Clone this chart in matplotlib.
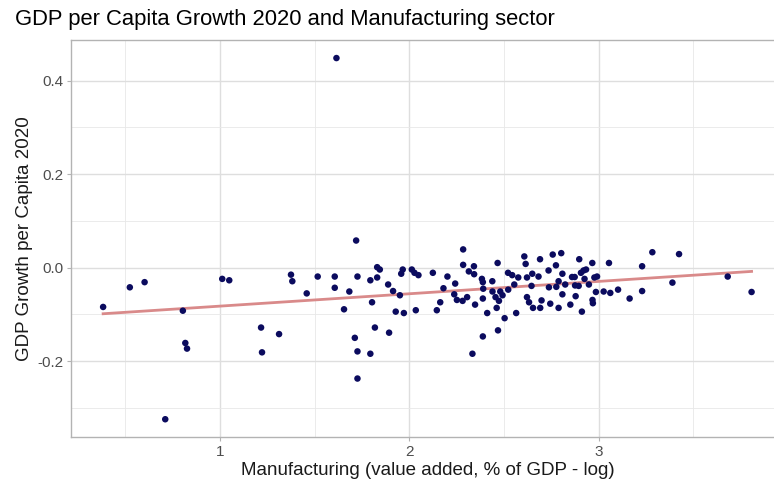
import numpy as np
import matplotlib
matplotlib.use("Agg")
import matplotlib.pyplot as plt
from matplotlib.ticker import FixedLocator

# Manufacturing value added (% of GDP, log) and GDP per capita growth 2020
manufacturing_log = [
    0.383, 0.524, 0.602, 0.711, 0.804, 0.817, 0.826, 1.012, 1.049, 1.217,
    1.222, 1.312, 1.375, 1.382, 1.458, 1.516, 1.606, 1.606, 1.655, 1.683,
    1.719, 1.726, 1.712, 1.726, 1.726, 1.794, 1.818, 1.803, 1.794, 1.830,
    1.830, 1.844, 1.888, 1.893, 1.914, 1.928, 1.950, 1.957, 1.965, 1.971,
    2.013, 2.027, 2.034, 2.048, 2.124, 2.145, 2.163, 2.180, 2.201, 2.242,
    2.237, 2.251, 2.281, 2.284, 2.284, 2.305, 2.314, 2.341, 2.342, 2.333,
    2.347, 2.383, 2.388, 2.388, 2.388, 2.390, 2.411, 2.438, 2.439, 2.455,
    2.461, 2.466, 2.468, 2.473, 2.480, 2.492, 2.503, 2.521, 2.522, 2.543,
    2.554, 2.564, 2.575, 2.607, 2.614, 2.621, 2.621, 2.632, 2.645, 2.649,
    2.653, 2.690, 2.682, 2.691, 2.698, 2.735, 2.737, 2.744, 2.757, 2.802,
    2.774, 2.788, 2.788, 2.776, 2.808, 2.808, 2.823, 2.850, 2.859, 2.873,
    2.878, 2.875, 2.897, 2.894, 2.906, 2.920, 2.933, 2.925, 2.911, 2.948,
    2.966, 2.967, 2.969, 2.977, 2.991, 2.985, 3.026, 3.054, 3.061, 3.102,
    3.163, 3.229, 3.229, 3.283, 3.389, 3.424, 3.681, 3.807, 1.615,
]
gdp_growth = [
    -0.084, -0.042, -0.031, -0.324, -0.092, -0.161, -0.173, -0.024, -0.027, -0.128,
    -0.181, -0.142, -0.015, -0.029, -0.055, -0.019, -0.019, -0.043, -0.089, -0.051,
    0.058, -0.019, -0.150, -0.179, -0.237, -0.184, -0.128, -0.074, -0.027, -0.021,
    0.001, -0.004, -0.036, -0.139, -0.050, -0.094, -0.059, -0.013, -0.004, -0.097,
    -0.004, -0.011, -0.091, -0.016, -0.011, -0.091, -0.074, -0.044, -0.019, -0.034,
    -0.057, -0.069, -0.071, 0.039, 0.006, -0.063, -0.008, 0.003, -0.014, -0.184,
    -0.079, -0.024, -0.031, -0.066, -0.147, -0.045, -0.097, -0.029, -0.051, -0.063,
    -0.086, 0.010, -0.134, -0.071, -0.051, -0.059, -0.108, -0.011, -0.047, -0.016,
    -0.036, -0.097, -0.021, 0.024, 0.008, -0.021, -0.063, -0.074, -0.039, -0.013,
    -0.086, 0.018, -0.019, -0.086, -0.070, -0.006, -0.042, -0.077, 0.028, 0.031,
    0.005, -0.029, -0.086, -0.041, -0.013, -0.057, -0.036, -0.079, -0.020, -0.020,
    -0.061, -0.038, 0.018, -0.039, -0.011, -0.006, -0.004, -0.024, -0.094, -0.036,
    0.010, -0.069, -0.076, -0.021, -0.019, -0.052, -0.051, 0.010, -0.054, -0.047,
    -0.066, 0.003, -0.050, 0.033, -0.032, 0.029, -0.019, -0.052, 0.448,
]

x_ticks = [1, 2, 3]
y_ticks = [-0.2, 0.0, 0.2, 0.4]
y_tick_labels = ["-0.2", "0.0", "0.2", "0.4"]

title = "GDP per Capita Growth 2020 and Manufacturing sector"
x_label = "Manufacturing (value added, % of GDP - log)"
y_label = "GDP Growth per Capita 2020"

x = np.array(manufacturing_log)
y = np.array(gdp_growth)

plt.rcParams["font.family"] = ["Liberation Sans", "DejaVu Sans"]

W, H = 774, 491
fig = plt.figure(figsize=(W / 100, H / 100), dpi=100)
fig.patch.set_facecolor("white")

# panel: extends slightly past the right edge of the canvas
left_px, right_px, top_px, bottom_px = 70.7, 784.0, 40.0, 437.3
ax = fig.add_axes([left_px / W, 1 - bottom_px / H,
                   (right_px - left_px) / W, (bottom_px - top_px) / H])

# ggplot-style 5% expansion of the data range
xr = x.max() - x.min()
yr = y.max() - y.min()
ax.set_xlim(x.min() - 0.05 * xr, x.max() + 0.05 * xr)
ax.set_ylim(y.min() - 0.05 * yr, y.max() + 0.05 * yr)

ax.xaxis.set_major_locator(FixedLocator(x_ticks))
ax.xaxis.set_minor_locator(FixedLocator([0.5, 1.5, 2.5, 3.5]))
ax.yaxis.set_major_locator(FixedLocator(y_ticks))
ax.yaxis.set_minor_locator(FixedLocator([-0.3, -0.1, 0.1, 0.3]))
ax.set_xticklabels([str(t) for t in x_ticks])
ax.set_yticklabels(y_tick_labels)

ax.grid(True, which="major", color="#DEDEDE", linewidth=1.0)
ax.grid(True, which="minor", color="#E8E8E8", linewidth=0.6)
ax.set_axisbelow(True)
for s in ax.spines.values():
    s.set_color("#B3B3B3")
    s.set_linewidth(1.0)

ax.tick_params(which="major", length=3, width=0.8, color="#B3B3B3",
               labelsize=11, labelcolor="#4D4D4D", pad=2.5)
ax.tick_params(which="minor", length=0)

# points
ax.scatter(x, y, s=22, color="#0B0B5E", edgecolors="none", zorder=3)

# least-squares trend line over the data range
slope, intercept = np.polyfit(x, y, 1)
xs = np.array([x.min(), x.max()])
ax.plot(xs, intercept + slope * xs, color="#D98A8A", linewidth=2.0, zorder=2)

ax.set_xlabel(x_label, fontsize=13.5, color="#1A1A1A", labelpad=2)
ax.set_ylabel(y_label, fontsize=13.5, color="#1A1A1A", labelpad=3)
fig.text(15 / W, 1 - 19 / H, title, fontsize=15.8, color="#000000",
         ha="left", va="center")

fig.savefig("out.png", dpi=100, facecolor="white")
